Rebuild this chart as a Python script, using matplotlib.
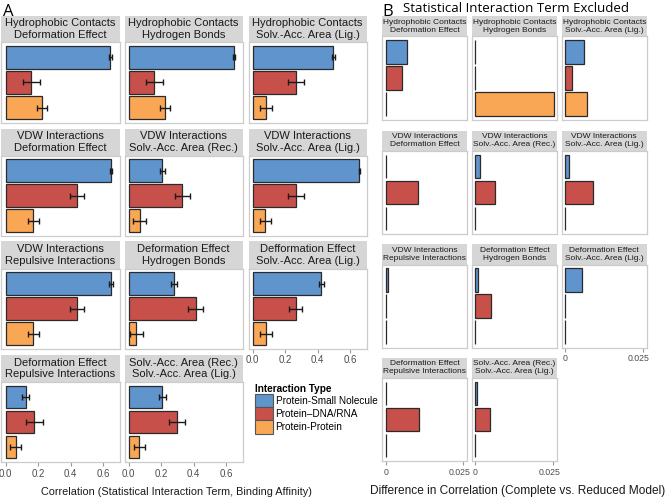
import matplotlib.pyplot as plt
import matplotlib.transforms as mtransforms
from matplotlib.patches import Patch

plt.rcParams['font.family'] = ['Liberation Sans', 'DejaVu Sans']

# ---- data -------------------------------------------------------------
types = ['Protein-Small Nolecule', 'Protein\u2013DNA/RNA', 'Protein-Protein']

titles_a = [
    'Hydrophobic Contacts\nDeformation Effect', 'Hydrophobic Contacts\nHydrogen Bonds',
    'Hydrophobic Contacts\nSolv.-Acc. Area (Lig.)',
    'VDW Interactions\nDeformation Effect', 'VDW Interactions\nSolv.-Acc. Area (Rec.)',
    'VDW Interactions\nSolv.-Acc. Area (Lig.)',
    'VDW Interactions\nRepulsive Interactions', 'Deformation Effect\nHydrogen Bonds',
    'Defformation Effect\nSolv.-Acc. Area (Lig.)',
    'Deformation Effect\nRepulsive Interactions', 'Solv.-Acc. Area (Rec.)\nSolv.-Acc. Area (Lig.)',
]
titles_b = [t.replace('Defformation', 'Deformation') for t in titles_a]

corr_small = [0.644, 0.647, 0.495, 0.648, 0.207, 0.656, 0.648, 0.280, 0.423, 0.123, 0.207]
err_small = [0.007, 0.006, 0.010, 0.006, 0.017, 0.005, 0.013, 0.020, 0.016, 0.021, 0.020]
corr_dna = [0.157, 0.158, 0.265, 0.440, 0.330, 0.264, 0.440, 0.411, 0.264, 0.176, 0.297]
err_dna = [0.053, 0.052, 0.050, 0.042, 0.047, 0.050, 0.042, 0.045, 0.042, 0.053, 0.048]
corr_pp = [0.222, 0.222, 0.083, 0.170, 0.067, 0.076, 0.170, 0.047, 0.082, 0.062, 0.066]
err_pp = [0.032, 0.030, 0.036, 0.034, 0.039, 0.034, 0.035, 0.038, 0.035, 0.035, 0.036]

diff_small = [0.0069, 0.0, 0.0062, 0.0, 0.0016, 0.0013, 0.0009, 0.0010, 0.0056, 0.0, 0.0006]
diff_dna = [0.0054, 0.0, 0.0024, 0.0105, 0.0063, 0.0091, 0.0, 0.0049, 0.0, 0.0108, 0.0047]
diff_pp = [0.0, 0.0252, 0.0071, 0.0, 0.0, 0.0, 0.0, 0.0, 0.0, 0.0, 0.0]

ticks_a = [0.0, 0.2, 0.4, 0.6]
ticks_b = [0.0, 0.025]
ticklabels_b = ['0', '0.025']

colors = ['#5F94CD', '#C8504B', '#F9A655']
edge = '#2a2a2a'
strip = '#D6D6D6'
frame = '#CCCCCC'

# ---- layout (pixels) --------------------------------------------------
W, H = 667, 499
fig = plt.figure(figsize=(W / 100, H / 100), dpi=100)


def px_axes(left, top, width, height):
    return fig.add_axes([left / W, 1 - (top + height) / H, width / W, height / H])


def header(left, top, width, height, text, size):
    ax = px_axes(left, top, width, height)
    ax.set_facecolor(strip)
    ax.set_xticks([])
    ax.set_yticks([])
    for s in ax.spines.values():
        s.set_visible(False)
    ax.text(0.5, 0.5, text, ha='center', va='center', fontsize=size,
            color='#1a1a1a', transform=ax.transAxes, linespacing=1.2)


def panel(ax, vals, errs, xlim, ticks, show_ticks, ticklabels, labelsize):
    ypos = [2, 1, 0]
    ax.barh(ypos, vals, height=0.9, color=colors, edgecolor=edge, linewidth=0.9)
    if errs is not None:
        ax.errorbar(vals, ypos, xerr=errs, fmt='none', ecolor='#1a1a1a',
                    elinewidth=1.0, capsize=2.3, capthick=1.0)
    ax.set_xlim(*xlim)
    ax.set_ylim(-0.6, 2.6)
    ax.set_yticks([])
    for s in ax.spines.values():
        s.set_color(frame)
        s.set_linewidth(0.9)
    if show_ticks:
        ax.set_xticks(ticks)
        ax.set_xticklabels(ticklabels)
        ax.tick_params(axis='x', direction='out', length=3, width=0.8,
                       color='#999999', labelsize=labelsize, labelcolor='#4d4d4d', pad=2)
    else:
        ax.set_xticks([])


grid_pos = [(0, 0), (0, 1), (0, 2), (1, 0), (1, 1), (1, 2),
            (2, 0), (2, 1), (2, 2), (3, 0), (3, 1)]

# panel A
lefts_a = [1.5, 124.5, 248.5]
tops_a = [15.5, 128.5, 241.5, 355]
wa, hha, pha = 118, 27, 80
for i, (r, c) in enumerate(grid_pos):
    header(lefts_a[c], tops_a[r], wa, hha, titles_a[i], 8)
    ax = px_axes(lefts_a[c], tops_a[r] + hha, wa, pha)
    show = (r == 3) or (r == 2 and c == 2)
    panel(ax, [corr_small[i], corr_dna[i], corr_pp[i]],
          [err_small[i], err_dna[i], err_pp[i]],
          (-0.026, 0.70), ticks_a, show, [f'{t:.1f}' for t in ticks_a], 7)

# panel B
lefts_b = [382.3, 472, 561.7]
tops_b = [16, 130.5, 244, 357.5]
wb, hhb, phb = 85, 20.5, 83
shift = mtransforms.ScaledTranslation(-4 / 100, 0, fig.dpi_scale_trans)
for i, (r, c) in enumerate(grid_pos):
    header(lefts_b[c], tops_b[r], wb, hhb, titles_b[i], 6)
    ax = px_axes(lefts_b[c], tops_b[r] + hhb, wb, phb)
    show = (r == 3) or (r == 2 and c == 2)
    panel(ax, [diff_small[i], diff_dna[i], diff_pp[i]], None,
          (-0.00106, 0.02625), ticks_b, show, ticklabels_b, 6.3)
    if show:
        lab = ax.get_xticklabels()[1]
        lab.set_transform(lab.get_transform() + shift)

# legend
handles = [Patch(facecolor=col, edgecolor='#555555', linewidth=0.8) for col in colors]
leg = fig.legend(handles, types, loc='upper left',
                 bbox_to_anchor=(250 / W, 1 - 379 / H), frameon=False,
                 fontsize=7.2, title='Interaction Type',
                 title_fontproperties={'weight': 'bold', 'size': 7.2},
                 handlelength=1.75, handleheight=1.65, labelspacing=0,
                 handletextpad=0.3, borderpad=0, alignment='left')

# titles and labels
fig.text(3 / W, 1 - 12 / H, 'A', fontsize=12, family='Open Sans', va='center')
fig.text(382 / W, 1 - 12 / H, 'B', fontsize=12, family='Open Sans', va='center')
fig.text(516 / W, 1 - 9 / H, 'Statistical Interaction Term Excluded',
         fontsize=9.5, family='Open Sans', ha='center', va='center')
fig.text(176 / W, 1 - 492 / H,
         'Correlation (Statistical Interaction Term, Binding Affinity)',
         fontsize=7.8, ha='center', va='center', color='#1a1a1a')
fig.text(518 / W, 1 - 491 / H,
         'Difference in Correlation (Complete vs. Reduced Model)',
         fontsize=8.6, ha='center', va='center', color='#1a1a1a')

fig.savefig('out.png', dpi=100)
